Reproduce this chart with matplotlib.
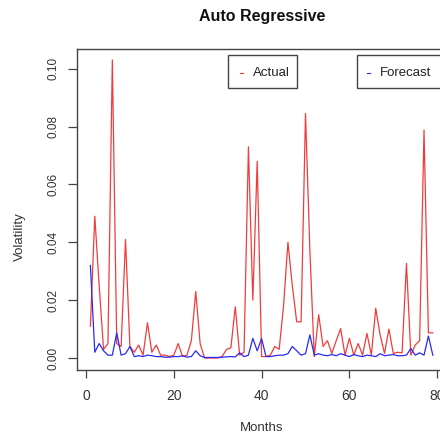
import matplotlib
matplotlib.use("Agg")
import matplotlib.pyplot as plt
from matplotlib.patches import Rectangle
from matplotlib.lines import Line2D

plt.rcParams['font.family'] = ['Liberation Sans', 'DejaVu Sans']

months = list(range(1, 80))
actual = [0.011, 0.049, 0.025, 0.003, 0.005, 0.103, 0.005, 0.004, 0.041, 0.004,
          0.002, 0.0045, 0.001, 0.0122, 0.002, 0.0045, 0.001, 0.001, 0.0005, 0.001,
          0.005, 0.0005, 0.001, 0.006, 0.023, 0.005, 0.0, 0.0, 0.0, 0.0,
          0.0005, 0.003, 0.0035, 0.0177, 0.001, 0.002, 0.073, 0.020, 0.068, 0.0005,
          0.0005, 0.001, 0.004, 0.003, 0.018, 0.040, 0.025, 0.0125, 0.0125, 0.0845,
          0.037, 0.0005, 0.015, 0.004, 0.006, 0.0016, 0.006, 0.0102, 0.001, 0.0068,
          0.001, 0.005, 0.001, 0.0085, 0.001, 0.0172, 0.008, 0.0016, 0.010, 0.0016,
          0.002, 0.0018, 0.0327, 0.001, 0.0045, 0.006, 0.0788, 0.0087, 0.0087]
forecast = [0.032, 0.002, 0.005, 0.0025, 0.001, 0.001, 0.0087, 0.001, 0.0015, 0.004,
            0.0005, 0.0008, 0.0005, 0.001, 0.0008, 0.0005, 0.0005, 0.0003, 0.0003, 0.0005,
            0.0005, 0.0008, 0.0003, 0.0005, 0.0025, 0.0008, 0.0002, 0.0002, 0.0002, 0.0002,
            0.0003, 0.0004, 0.0005, 0.0004, 0.0018, 0.0005, 0.001, 0.0068, 0.0025, 0.0067,
            0.0005, 0.0005, 0.0008, 0.001, 0.001, 0.0015, 0.004, 0.0025, 0.001, 0.0015,
            0.008, 0.001, 0.0015, 0.001, 0.0008, 0.0012, 0.0008, 0.0015, 0.001, 0.0005,
            0.0012, 0.0008, 0.0005, 0.001, 0.0008, 0.0005, 0.0015, 0.0008, 0.001, 0.0012,
            0.0008, 0.0008, 0.001, 0.0033, 0.001, 0.0018, 0.001, 0.0076, 0.001]
x_ticks = [0, 20, 40, 60, 80]
y_ticks = [0.00, 0.02, 0.04, 0.06, 0.08, 0.10]
y_tick_labels = ["0.00", "0.02", "0.04", "0.06", "0.08", "0.10"]

W, H = 440, 434
fig = plt.figure(figsize=(W / 100, H / 100), dpi=100)

def fx(px):
    return px / W

def fy(py):
    return 1 - py / H

left, right, top, bottom = 76.7, 446.5, 49.0, 369.9
ax = fig.add_axes([fx(left), fy(bottom), fx(right - left), (bottom - top) / H])

ax.plot(months, actual, color='#f03c3c', lw=0.9)
ax.plot(months, forecast, color='#2a2af0', lw=0.9)

ax.set_xlim(-2.12, 82.12)
ax.set_ylim(-0.0041, 0.1068)
ax.set_xticks(x_ticks)
ax.set_yticks(y_ticks)
ax.set_yticklabels(y_tick_labels)

for s in ax.spines.values():
    s.set_color('#444444')
    s.set_linewidth(1.0)

ax.tick_params(axis='x', direction='out', length=5.5, width=0.9, color='#444444',
               labelsize=10, labelcolor='#333333', pad=8)
ax.tick_params(axis='y', direction='out', length=6.5, width=0.9, color='#444444',
               labelsize=8.5, labelcolor='#333333', pad=6, labelrotation=90)
for lab in ax.get_yticklabels():
    lab.set_va('center')

fig.text(fx(262), fy(17), "Auto Regressive", ha='center', va='center',
         fontsize=11.5, fontweight='bold', color='#111111')
fig.text(fx(262), fy(428), "Months", ha='center', va='center',
         fontsize=9.5, color='#333333')
fig.text(fx(20), fy(237), "Volatility", ha='center', va='center',
         rotation=90, fontsize=9.5, color='#333333')

# legend boxes
def legend_box(x0, x1, y0, y1, mx, tx, label, color):
    fig.add_artist(Rectangle((fx(x0), fy(y1)), fx(x1 - x0), (y1 - y0) / H,
                             transform=fig.transFigure, fill=True, facecolor='white',
                             edgecolor='#444444', lw=1.0))
    fig.add_artist(Line2D([fx(mx - 1.5), fx(mx + 1.5)], [fy(73), fy(73)],
                          transform=fig.transFigure, color=color, lw=0.8))
    fig.text(fx(tx), fy(72.5), label, ha='left', va='center', fontsize=9.5,
             color='#222222')

legend_box(228, 297, 55, 88, 241, 253, "Actual", '#f03c3c')
legend_box(357, 446, 55, 88, 368, 380, "Forecast", '#2a2af0')

fig.savefig("out.png", dpi=100)
